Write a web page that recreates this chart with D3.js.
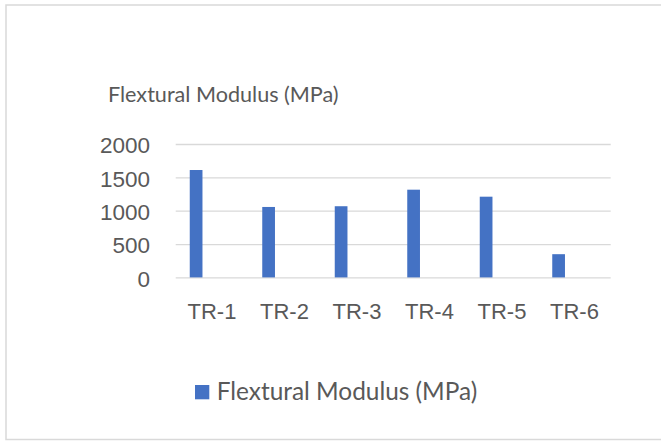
<!DOCTYPE html>
<html>
<head>
<meta charset="utf-8">
<script src="https://cdn.jsdelivr.net/npm/d3@7"></script>
<style>
  html, body { margin:0; padding:0; background:#fff; }
  svg { display:block; font-family: Lato, "Open Sans", sans-serif; }
  .axis text { fill:#595959; }
</style>
</head>
<body>
<div id="chart"></div>
<script>
// data
const categories = ["TR-1","TR-2","TR-3","TR-4","TR-5","TR-6"];
const seriesName = "Flextural Modulus (MPa)";
const values = [1610, 1056, 1067, 1315, 1210, 348];
const yTicks = [0, 500, 1000, 1500, 2000];

const W = 661, H = 441;
const plot = {left:175.7, right:610.7, top:144, bottom:277.4};
const textColor = "#595959", gridColor = "#d9d9d9", barColor = "#4472C4";

const svg = d3.select('#chart').append('svg')
  .attr('width', W).attr('height', H);

// chart frame (right side runs off the picture)
svg.append('rect')
  .attr('x', 6).attr('y', 5).attr('width', 700).attr('height', 434.5)
  .attr('fill', 'none').attr('stroke', gridColor).attr('stroke-width', 1.5);

const x = d3.scaleBand().domain(categories).range([plot.left, plot.right]);
// single series sits left of the category centre, like the original
const x1 = d3.scaleBand().domain([seriesName]).range([0, x.bandwidth()])
  .paddingOuter(2.35).align(0.235);
const y = d3.scaleLinear().domain([0, 2000]).range([plot.bottom, plot.top]);

// y axis + gridlines
const yAxis = svg.append('g').attr('class','axis y')
  .attr('transform', `translate(${plot.left},0)`)
  .call(d3.axisLeft(y).tickValues(yTicks).tickFormat(d3.format('d'))
    .tickSize(-(plot.right-plot.left)).tickPadding(25.7))
  .style('font-size', '22.5px').style('font-family', null);
yAxis.select('.domain').remove();
yAxis.selectAll('line').attr('stroke', gridColor).attr('stroke-width', 1.3);
yAxis.selectAll('text').attr('dy', '0.39em');

// bars
svg.append('g').selectAll('rect')
  .data(values)
  .enter().append('rect')
    .attr('x', (d,i) => x(categories[i]) + x1(seriesName))
    .attr('width', x1.bandwidth())
    .attr('y', d => y(d))
    .attr('height', d => y(0) - y(d))
    .attr('fill', barColor);

// x axis labels
const xAxis = svg.append('g').attr('class','axis x')
  .attr('transform', `translate(0,${plot.bottom})`)
  .call(d3.axisBottom(x).tickSize(0).tickPadding(26.3))
  .style('font-size', '22px').style('font-family', null);
xAxis.select('.domain').remove();

// title
svg.append('text')
  .attr('x', 108).attr('y', 102)
  .attr('fill', textColor).style('font-size', '21.6px')
  .text(seriesName);

// legend
const legend = svg.append('g').attr('transform', 'translate(195,385)');
legend.append('rect').attr('width', 14.3).attr('height', 14.3).attr('fill', barColor);
legend.append('text')
  .attr('x', 21.7).attr('y', 15)
  .attr('fill', textColor).style('font-size', '24.4px')
  .text(seriesName);
</script>
</body>
</html>
